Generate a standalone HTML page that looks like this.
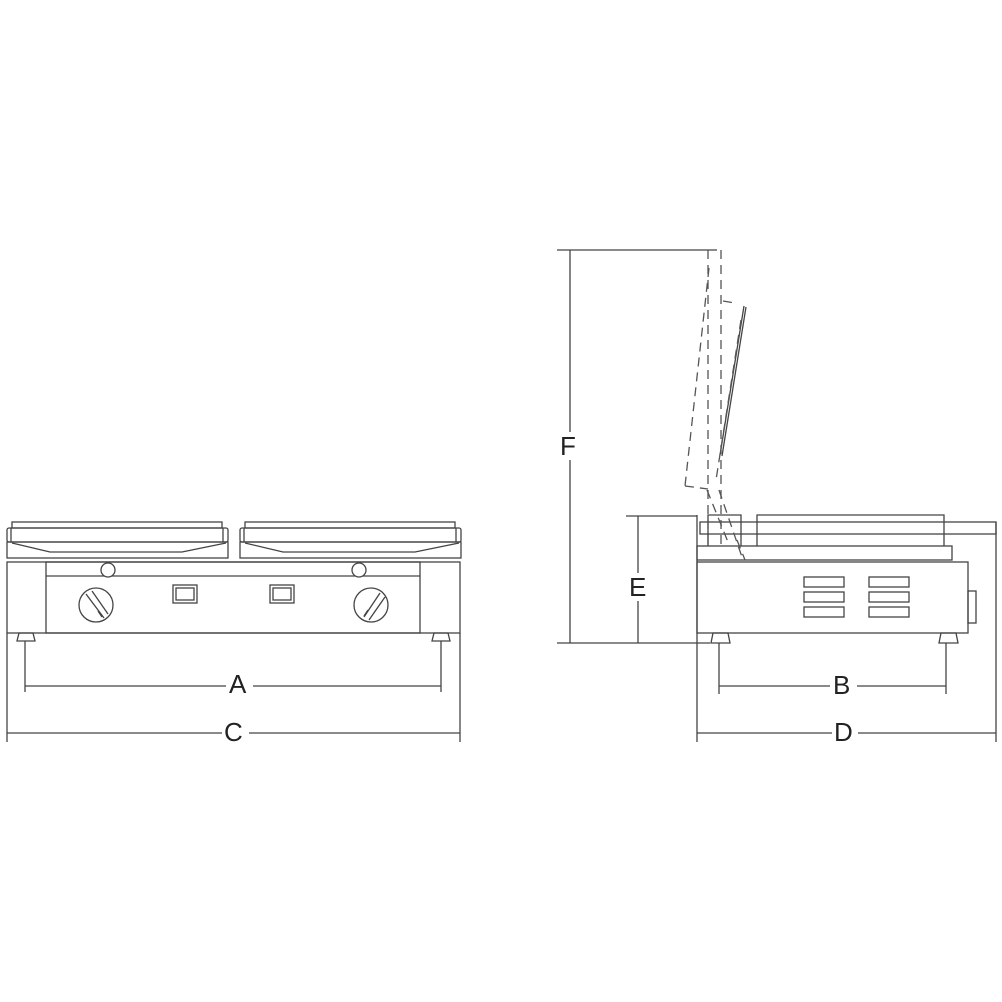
<!DOCTYPE html>
<html><head><meta charset="utf-8"><style>
html,body{margin:0;padding:0;background:#fff;width:1002px;height:1002px;overflow:hidden}
text{font-family:"Liberation Sans",sans-serif;font-size:26px;fill:#222}
</style></head><body>
<svg width="1002" height="1002" viewBox="0 0 1002 1002" xmlns="http://www.w3.org/2000/svg">
<g fill="none" stroke="#444" stroke-width="1.3">
<!-- LEFT VIEW plates -->
<g id="pl">
<rect x="12" y="522" width="210" height="6"/>
<rect x="7" y="528" width="221" height="14" rx="2"/>
<line x1="11" y1="528" x2="11" y2="542"/><line x1="223" y1="528" x2="223" y2="542"/>
<rect x="7" y="542" width="221" height="16"/>
<polyline points="12,543 50,552 182,552 226,543"/>
</g>
<use href="#pl" x="233"/>
<!-- body -->
<rect x="7" y="562" width="453" height="71"/>
<rect x="46" y="562" width="374" height="71"/>
<line x1="46" y1="576" x2="420" y2="576"/>
<circle cx="108" cy="570" r="7" fill="#fff"/>
<circle cx="359" cy="570" r="7" fill="#fff"/>
<circle cx="96" cy="605" r="17"/>
<line x1="86" y1="594" x2="104" y2="618"/><line x1="92" y1="591" x2="108" y2="614"/>
<line x1="98" y1="611" x2="102" y2="617"/>
<circle cx="371" cy="605" r="17"/>
<line x1="380" y1="593" x2="364" y2="617"/><line x1="385" y1="597" x2="369" y2="620"/>
<line x1="368" y1="610" x2="364" y2="616"/>
<rect x="173" y="585" width="24" height="18"/><rect x="176" y="588" width="18" height="12"/>
<rect x="270" y="585" width="24" height="18"/><rect x="273" y="588" width="18" height="12"/>
<!-- feet -->
<polygon points="19,633 33,633 35,641 17,641"/>
<polygon points="434,633 448,633 450,641 432,641"/>
<line x1="25" y1="641" x2="25" y2="692"/><line x1="441" y1="641" x2="441" y2="692"/>
<line x1="7" y1="633" x2="7" y2="742"/><line x1="460" y1="633" x2="460" y2="742"/>
<line x1="25" y1="686" x2="226" y2="686"/><line x1="253" y1="686" x2="441" y2="686"/>
<line x1="7" y1="733" x2="222" y2="733"/><line x1="249" y1="733" x2="460" y2="733"/>

<!-- RIGHT VIEW -->
<rect x="697" y="562" width="271" height="71"/>
<rect x="968" y="591" width="8" height="32"/>
<rect x="804" y="577" width="40" height="10"/><rect x="869" y="577" width="40" height="10"/>
<rect x="804" y="592" width="40" height="10"/><rect x="869" y="592" width="40" height="10"/>
<rect x="804" y="607" width="40" height="10"/><rect x="869" y="607" width="40" height="10"/>
<rect x="697" y="546" width="255" height="14"/>
<rect x="700" y="522" width="296" height="12"/>
<polyline points="757,546 757,515 944,515 944,546"/>
<polyline points="708,546 708,515 741,515 741,546"/>
<polygon points="713,633 728,633 730,643 711,643"/>
<polygon points="941,633 956,633 958,643 939,643"/>
<line x1="719" y1="643" x2="719" y2="694"/><line x1="946" y1="643" x2="946" y2="694"/>
<line x1="719" y1="686" x2="830" y2="686"/><line x1="857" y1="686" x2="946" y2="686"/>
<line x1="697" y1="515" x2="697" y2="742"/><line x1="996" y1="522" x2="996" y2="742"/>
<line x1="697" y1="733" x2="832" y2="733"/><line x1="858" y1="733" x2="996" y2="733"/>
<!-- E -->
<line x1="626" y1="516" x2="697" y2="516"/>
<line x1="638" y1="516" x2="638" y2="573"/><line x1="638" y1="601" x2="638" y2="643"/>
<!-- F -->
<line x1="557" y1="250" x2="717" y2="250"/>
<line x1="570" y1="250" x2="570" y2="432"/><line x1="570" y1="460" x2="570" y2="643"/>
<line x1="557" y1="643" x2="710" y2="643"/>
<!-- lid solid -->
<line x1="744" y1="306" x2="720" y2="455"/><line x1="746" y1="307" x2="722" y2="456"/>
</g>
<g fill="none" stroke="#555" stroke-width="1.3" stroke-dasharray="9,6">
<line x1="708" y1="250" x2="708" y2="546"/>
<line x1="721" y1="250" x2="721" y2="546"/>
<line x1="723" y1="301" x2="735" y2="303"/>
<line x1="709" y1="268" x2="685" y2="486"/>
<line x1="685" y1="486" x2="708" y2="489"/>
<line x1="741" y1="320" x2="716" y2="480"/>
<line x1="707" y1="490" x2="728" y2="542"/>
<line x1="719" y1="490" x2="743" y2="560"/>
<line x1="737" y1="540" x2="745" y2="560"/>
</g>
<text x="229" y="693">A</text>
<text x="224" y="741">C</text>
<text x="833" y="694">B</text>
<text x="834" y="741">D</text>
<text x="629" y="596">E</text>
<text x="560" y="455">F</text>
</svg>
</body></html>
